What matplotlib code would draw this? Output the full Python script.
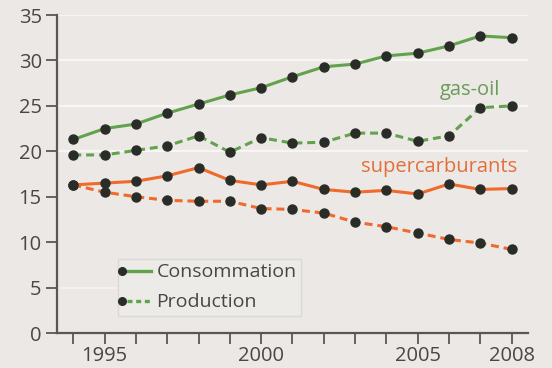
import matplotlib
matplotlib.use("Agg")
import matplotlib.pyplot as plt
from matplotlib.lines import Line2D
from matplotlib.legend_handler import HandlerBase

years = list(range(1994, 2009))

# Gazole (gas-oil)
gasoil_conso = [21.3, 22.5, 23.0, 24.2, 25.2, 26.2, 27.0, 28.2, 29.3, 29.6, 30.5, 30.8, 31.6, 32.7, 32.5]
gasoil_prod = [19.6, 19.6, 20.1, 20.6, 21.7, 19.9, 21.5, 20.9, 21.0, 22.0, 22.0, 21.1, 21.7, 24.8, 25.0]

# Essences (supercarburants)
super_conso = [16.3, 16.5, 16.7, 17.3, 18.2, 16.8, 16.3, 16.7, 15.8, 15.5, 15.7, 15.3, 16.4, 15.8, 15.9]
super_prod = [16.3, 15.5, 15.0, 14.6, 14.5, 14.5, 13.7, 13.6, 13.2, 12.2, 11.7, 11.0, 10.3, 9.9, 9.2]

xtick_labels = {1995: "1995", 2000: "2000", 2005: "2005", 2008: "2008"}
yticks = [0, 5, 10, 15, 20, 25, 30, 35]

BG = "#ebe8e5"
GREEN = "#62a24c"
ORANGE = "#f06a2c"
DOT = "#2a2c27"
TXT = "#4a4642"
AXIS = "#5a5650"

plt.rcParams["font.family"] = ["Open Sans", "DejaVu Sans"]

fig = plt.figure(figsize=(5.52, 3.68), dpi=100, facecolor=BG)
ax = fig.add_axes([0.1033, 0.0951, 0.853, 0.8641], facecolor=BG)

for y in [20, 25, 30, 35]:
    ax.axhline(y, color="#f7f6f4", lw=1.6, zorder=0)
ax.axhline(5, xmin=0.0, xmax=0.4, color="#f5f4f2", lw=1.2, zorder=0)

dash = (2.6, 1.6)
common = dict(lw=2.2, marker="o", markersize=6.5, markerfacecolor=DOT,
              markeredgecolor=DOT, zorder=3)

ax.plot(years, gasoil_conso, color=GREEN, **common)
ax.plot(years, gasoil_prod, color=GREEN, dashes=dash, **common)
ax.plot(years, super_conso, color=ORANGE, **common)
ax.plot(years, super_prod, color=ORANGE, dashes=dash, **common)

ax.text(2006.67, 26.2, "gas-oil", color="#6b9c58", fontsize=14.5,
        ha="center", va="baseline")
ax.text(2005.69, 17.7, "supercarburants", color="#e2703c", fontsize=14.5,
        ha="center", va="baseline")

ax.set_xlim(1993.48, 2008.52)
ax.set_ylim(0, 35)
ax.set_xticks(years)
ax.set_xticklabels([xtick_labels.get(y, "") for y in years])
ax.set_yticks(yticks)
ax.set_yticklabels([str(v) for v in yticks])

for side in ["top", "right"]:
    ax.spines[side].set_visible(False)
for side in ["left", "bottom"]:
    ax.spines[side].set_color(AXIS)
    ax.spines[side].set_linewidth(1.6)

ax.tick_params(axis="both", direction="out", length=8, width=1.3,
               color=AXIS, labelcolor=TXT, labelsize=14.5, pad=3)
ax.tick_params(axis="x", pad=1)


class MarkerLeftHandler(HandlerBase):
    """Legend key: dot on the left, line segment running to the right."""

    def create_artists(self, legend, orig_handle, xdescent, ydescent,
                       width, height, fontsize, trans):
        y = height / 2 - ydescent
        x0 = -xdescent
        seg = Line2D([x0 + 3, x0 + width], [y, y])
        self.update_prop(seg, orig_handle, legend)
        seg.set_marker("None")
        dot = Line2D([x0], [y])
        self.update_prop(dot, orig_handle, legend)
        dot.set_linestyle("None")
        seg.set_transform(trans)
        dot.set_transform(trans)
        return [seg, dot]


h1 = Line2D([], [], color=GREEN, lw=2.4, marker="o", markersize=5.5,
            markerfacecolor=DOT, markeredgecolor=DOT)
h2 = Line2D([], [], color=GREEN, lw=2.4, dashes=(1.5, 1.1), marker="o",
            markersize=5.5, markerfacecolor=DOT, markeredgecolor=DOT)
leg = ax.legend([h1, h2], ["Consommation", "Production"],
                handler_map={Line2D: MarkerLeftHandler()},
                loc="lower left", bbox_to_anchor=(0.108, 0.022),
                fontsize=14, handlelength=1.45, handletextpad=0.3,
                labelspacing=0.62, borderpad=0.25, frameon=True,
                fancybox=False, framealpha=1)
leg.get_frame().set_facecolor("#edebe8")
leg.get_frame().set_edgecolor("#dcd9d5")
for t in leg.get_texts():
    t.set_color(TXT)

fig.savefig("out.png", dpi=100, facecolor=BG)
